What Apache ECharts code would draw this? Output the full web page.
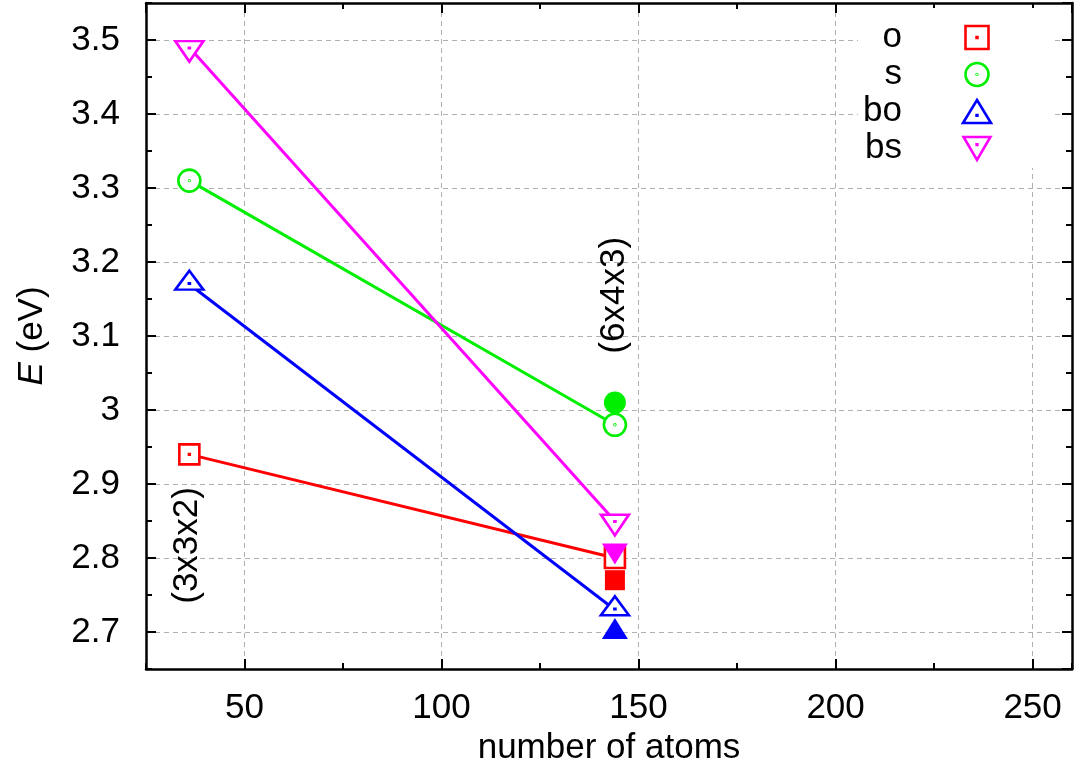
<!DOCTYPE html>
<html>
<head>
<meta charset="utf-8">
<script src="https://cdn.jsdelivr.net/npm/echarts@6/dist/echarts.min.js"></script>
<style>
  html, body { margin: 0; padding: 0; background: #fff; }
  #chart { width: 1076px; height: 766px; }
</style>
</head>
<body>
<div id="chart"></div>
<script>
// data
const atoms = [36, 144];
const oOpen = [2.94, 2.80];
const sOpen = [3.31, 2.98];
const boOpen = [3.17, 2.73];
const bsOpen = [3.49, 2.85];

const filledAtoms = [144];
const oFilled = [2.77];
const sFilled = [3.01];
const boFilled = [2.70];
const bsFilled = [2.81];

const cellNames = ['(3x3x2)', '(6x4x3)'];
const cellX = [35.5, 143.9];
const cellY = [2.817, 3.155];

// open symbols with the little centre dot (gnuplot style)
const SQ = 'path://M0,0L20,0L20,20L0,20Z M9.6,9.6L10.4,9.6L10.4,10.4L9.6,10.4Z';
const CI = 'path://M22,11A11,11,0,1,1,0,11A11,11,0,1,1,22,11Z M11.4,11A0.4,0.4,0,1,1,10.6,11A0.4,0.4,0,1,1,11.4,11Z';
const TU = 'path://M14,0L28,23L0,23Z M13.6,15L14.4,15L14.4,15.8L13.6,15.8Z';
const TD = 'path://M0,0L28,0L14,24Z M13.6,7.6L14.4,7.6L14.4,8.4L13.6,8.4Z';
const TD_FILL = 'path://M0,0L26,0L13,21Z';

const FONT = 'Liberation Sans';
const grid = { left: 146, right: 4, top: 3, bottom: 97, containLabel: false, outerBoundsMode: 'none' };

const pairs = (xs, ys) => xs.map((x, i) => [x, ys[i]]);

function openSeries(name, ys, color, symbol, size, offset) {
  return {
    name, type: 'line', data: pairs(atoms, ys),
    symbol, symbolSize: size, symbolOffset: [0, offset], symbolKeepAspect: true,
    showAllSymbol: true,
    lineStyle: { color, width: 3 },
    itemStyle: { color: '#fff', borderColor: color, borderWidth: 2.6, opacity: 1 },
    emphasis: { disabled: true },
    z: 3
  };
}

function filledSeries(ys, color, symbol, size, offset) {
  return {
    type: 'scatter', data: pairs(filledAtoms, ys),
    symbol, symbolSize: size, symbolOffset: [0, offset],
    itemStyle: { color, opacity: 1 },
    emphasis: { disabled: true },
    z: 4
  };
}

const majorX = (pos, labels) => ({
  type: 'value', min: 25, max: 260, minInterval: 50, maxInterval: 50,
  position: pos, gridIndex: 0,
  axisLine: { show: true, onZero: false, lineStyle: { color: '#000', width: 2.5 } },
  axisTick: { show: true, inside: true, length: 10, lineStyle: { color: '#000', width: 2 } },
  axisLabel: { show: labels, fontFamily: FONT, fontSize: 35, color: '#000', margin: 22,
               showMinLabel: false, showMaxLabel: false },
  splitLine: { show: labels, lineStyle: { color: '#b0b0b0', width: 1, type: [5, 4] } }
});
const minorX = (pos) => ({
  type: 'value', min: 25, max: 260, interval: 50, position: pos, gridIndex: 0,
  axisLine: { show: false },
  axisTick: { show: true, inside: true, length: 6, lineStyle: { color: '#000', width: 2 } },
  axisLabel: { show: false }, splitLine: { show: false }
});
const majorY = (pos, labels) => ({
  type: 'value', min: 2.65, max: 3.55, minInterval: 0.1, maxInterval: 0.1,
  position: pos, gridIndex: 0,
  axisLine: { show: true, onZero: false, lineStyle: { color: '#000', width: 2.5 } },
  axisTick: { show: true, inside: true, length: 10, lineStyle: { color: '#000', width: 2 } },
  axisLabel: { show: labels, fontFamily: FONT, fontSize: 35, color: '#000', margin: 26,
               showMinLabel: false, showMaxLabel: false },
  splitLine: { show: labels, lineStyle: { color: '#b0b0b0', width: 1, type: [5, 4] } }
});
const minorY = (pos) => ({
  type: 'value', min: 2.65, max: 3.55, interval: 0.1, position: pos, gridIndex: 0,
  axisLine: { show: false },
  axisTick: { show: true, inside: true, length: 6, lineStyle: { color: '#000', width: 2 } },
  axisLabel: { show: false }, splitLine: { show: false }
});

const xMain = majorX('bottom', true);
xMain.name = 'number of atoms';
xMain.nameLocation = 'middle';
xMain.nameGap = 57;
xMain.nameTextStyle = { fontFamily: FONT, fontSize: 35, color: '#000' };

const yMain = majorY('left', true);
yMain.name = '{i|E} (eV)';
yMain.nameLocation = 'middle';
yMain.nameRotate = 90;
yMain.nameGap = 96;
yMain.nameTextStyle = {
  fontFamily: FONT, fontSize: 35, color: '#000',
  rich: { i: { fontFamily: FONT, fontSize: 35, fontStyle: 'italic', color: '#000' } }
};

const chart = echarts.init(document.getElementById('chart'));
chart.setOption({
  animation: false,
  backgroundColor: '#fff',
  grid,
  xAxis: [xMain, minorX('bottom'), majorX('top', false), minorX('top')],
  yAxis: [yMain, minorY('left'), majorY('right', false), minorY('right')],
  legend: {
    orient: 'vertical', left: 858, top: 8,
    padding: [12, 60, 2, 0],
    backgroundColor: '#fff',
    align: 'right',
    itemWidth: 30, itemHeight: 23, itemGap: 2,
    selectedMode: false,
    itemStyle: { borderWidth: 2.6 },
    textStyle: { fontFamily: FONT, fontSize: 35, color: '#000', lineHeight: 30,
                 width: 44, align: 'right', padding: [0, 55, 0, 0] },
    data: [
      { name: 'o', icon: SQ },
      { name: 's', icon: CI },
      { name: 'bo', icon: TU },
      { name: 'bs', icon: TD }
    ]
  },
  series: [
    openSeries('o', oOpen, '#ff0000', SQ, [20, 20], 0),
    openSeries('s', sOpen, '#00ee00', CI, [22, 22], 0),
    openSeries('bo', boOpen, '#0000ff', TU, [28, 23], -4),
    openSeries('bs', bsOpen, '#ff00ff', TD, [28, 24], 4),
    filledSeries(oFilled, '#ff0000', 'rect', [20, 20], 0),
    filledSeries(sFilled, '#00ee00', 'circle', [22, 22], 0),
    filledSeries(boFilled, '#0000ff', 'triangle', [26, 21], -3.5),
    filledSeries(bsFilled, '#ff00ff', TD_FILL, [26, 21], 3.5),
    {
      type: 'scatter', silent: true,
      data: cellNames.map((n, i) => ({ name: n, value: [cellX[i], cellY[i]] })),
      symbolSize: 1, itemStyle: { color: 'rgba(0,0,0,0)', opacity: 1 },
      label: { show: true, position: 'inside', rotate: 90, formatter: '{b}',
               fontFamily: FONT, fontSize: 35, color: '#000', opacity: 1 },
      z: 5
    }
  ]
});
</script>
</body>
</html>
